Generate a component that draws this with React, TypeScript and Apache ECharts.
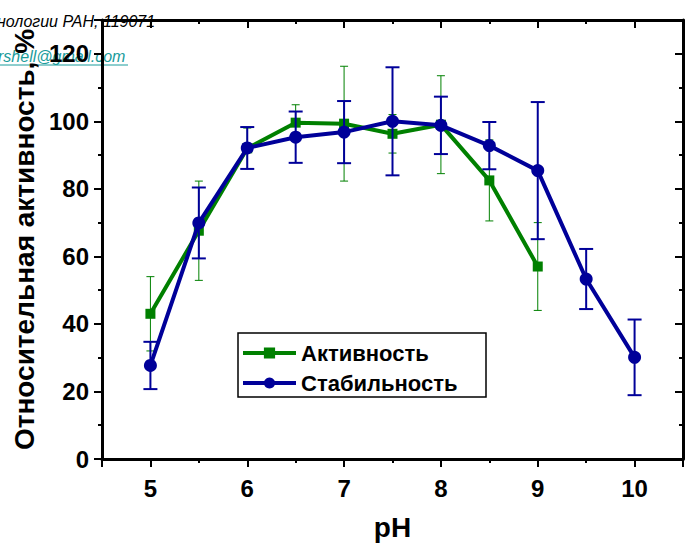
import React, { useEffect, useRef } from "react";
import * as echarts from "echarts";

const phActivity = [5, 5.5, 6, 6.5, 7, 7.5, 8, 8.5, 9];
const activity = [43, 67.6, 92, 99.6, 99.3, 96.3, 99, 82.5, 57];
const activityErr = [11, 14.7, 6, 5.3, 17, 5.7, 14.5, 12, 13];

const phStability = [5, 5.5, 6, 6.5, 7, 7.5, 8, 8.5, 9, 9.5, 10];
const stability = [27.7, 69.9, 92.1, 95.3, 96.8, 100, 98.8, 92.8, 85.4, 53.3, 30.1];
const stabilityErr = [7, 10.5, 6.2, 7.6, 9.2, 16, 8.5, 7, 20.3, 8.9, 11.2];

const seriesNames = ["Активность", "Стабильность"];
const xTitle = "pH";
const yTitle = "Относительная активность, %";
const bgLine1 = "нологии РАН, 119071";
const bgLine2 = "rshell@gmail.com";

const FONT = "'Liberation Sans', Arial, sans-serif";
const GREEN = "#008000";
const BLUE = "#000099";

function errorBars(name: string, xs: number[], ys: number[], errs: number[], color: string, lw: number, capW: number, z: number) {
  return {
    type: "custom",
    name,
    xAxisIndex: 0,
    yAxisIndex: 0,
    z,
    silent: true,
    data: xs.map((x, i) => [x, ys[i] - errs[i], ys[i] + errs[i]]),
    encode: { x: 0, y: [1, 2] },
    renderItem: (params: any, api: any) => {
      const x = api.value(0);
      const lo = api.coord([x, api.value(1)]);
      const hi = api.coord([x, api.value(2)]);
      const style = { stroke: color, lineWidth: lw };
      return {
        type: "group",
        children: [
          { type: "line", shape: { x1: lo[0], y1: lo[1], x2: hi[0], y2: hi[1] }, style },
          { type: "line", shape: { x1: lo[0] - capW / 2, y1: lo[1], x2: lo[0] + capW / 2, y2: lo[1] }, style },
          { type: "line", shape: { x1: hi[0] - capW / 2, y1: hi[1], x2: hi[0] + capW / 2, y2: hi[1] }, style },
        ],
      };
    },
  };
}

export default function App() {
  const ref = useRef<HTMLDivElement>(null);
  useEffect(() => {
    if (!ref.current) return;
    const chart = echarts.init(ref.current, null, { renderer: "svg" });
    const axisLineStyle = { color: "#000", width: 3 };
    const tickStyle = { color: "#000", width: 2 };
    const labelStyle = { fontFamily: FONT, fontWeight: "bold", fontSize: 24, color: "#000" };
    const xBase = { type: "value", min: 4.5, max: 10.5, gridIndex: 0, splitLine: { show: false } };
    const yBase = { type: "value", min: 0, max: 130, gridIndex: 0, splitLine: { show: false } };
    chart.setOption({
      animation: false,
      grid: { left: 102, right: 10, top: 20, bottom: 86, outerBoundsMode: "none" },
      xAxis: [
        { ...xBase, position: "bottom", interval: 0.5,
          axisLine: { show: true, onZero: false, lineStyle: axisLineStyle },
          axisTick: { show: true, inside: false, length: 4, lineStyle: tickStyle },
          axisLabel: { show: false } },
        { ...xBase, position: "bottom", minInterval: 1, maxInterval: 1,
          axisLine: { show: false, onZero: false },
          axisTick: { show: true, inside: false, length: 8, lineStyle: tickStyle },
          axisLabel: { ...labelStyle, margin: 17, formatter: (v: number) => (Number.isInteger(v) ? String(v) : "") },
          name: xTitle, nameLocation: "middle", nameGap: 54,
          nameTextStyle: { fontFamily: FONT, fontWeight: "bold", fontSize: 28, color: "#000" } },
        { ...xBase, position: "top", interval: 0.5,
          axisLine: { show: true, onZero: false, lineStyle: axisLineStyle },
          axisTick: { show: true, inside: true, length: 4, lineStyle: tickStyle },
          axisLabel: { show: false } },
        { ...xBase, position: "top", minInterval: 1, maxInterval: 1,
          axisLine: { show: false, onZero: false },
          axisTick: { show: true, inside: true, length: 8, lineStyle: tickStyle },
          axisLabel: { show: false } },
      ],
      yAxis: [
        { ...yBase, position: "left", interval: 10,
          axisLine: { show: true, onZero: false, lineStyle: axisLineStyle },
          axisTick: { show: true, inside: false, length: 4, lineStyle: tickStyle },
          axisLabel: { show: false } },
        { ...yBase, position: "left", minInterval: 20, maxInterval: 20,
          axisLine: { show: false, onZero: false },
          axisTick: { show: true, inside: false, length: 8, lineStyle: tickStyle },
          axisLabel: { ...labelStyle, margin: 13, formatter: (v: number) => (v % 20 === 0 ? String(v) : "") },
          name: yTitle, nameLocation: "middle", nameGap: 63,
          nameTextStyle: { fontFamily: FONT, fontWeight: "bold", fontSize: 28, color: "#000" } },
        { ...yBase, position: "right", interval: 10,
          axisLine: { show: true, onZero: false, lineStyle: axisLineStyle },
          axisTick: { show: true, inside: true, length: 4, lineStyle: tickStyle },
          axisLabel: { show: false } },
        { ...yBase, position: "right", minInterval: 20, maxInterval: 20,
          axisLine: { show: false, onZero: false },
          axisTick: { show: true, inside: true, length: 8, lineStyle: tickStyle },
          axisLabel: { show: false } },
      ],
      legend: {
        data: seriesNames,
        orient: "vertical",
        left: 241,
        top: 342,
        padding: 0,
        itemWidth: 53,
        itemHeight: 14,
        itemGap: 8,
        lineStyle: { width: 4 },
        textStyle: { fontFamily: FONT, fontWeight: "bold", fontSize: 22, color: "#000" },
      },
      graphic: [
        { type: "text", z: -10, left: -3, top: 13, style: { text: bgLine1, font: `italic 16px ${FONT}`, fill: "#000" } },
        { type: "text", z: -10, left: -2, top: 48, style: { text: bgLine2, font: `italic 16px ${FONT}`, fill: "#1a9c9c" } },
        { type: "line", z: -10, shape: { x1: 0, y1: 65, x2: 128, y2: 65 }, style: { stroke: "#1a9c9c", lineWidth: 1 } },
        { type: "rect", z: 10, shape: { x: 238, y: 333, width: 248, height: 64 }, style: { fill: "none", stroke: "#000", lineWidth: 1.5 } },
      ],
      series: [
        errorBars("errA", phActivity, activity, activityErr, GREEN, 1, 8, 2),
        {
          type: "line", name: seriesNames[0], xAxisIndex: 0, yAxisIndex: 0, z: 3,
          data: phActivity.map((x, i) => [x, activity[i]]),
          symbol: "rect", symbolSize: 10,
          lineStyle: { color: GREEN, width: 4 },
          itemStyle: { color: GREEN },
        },
        errorBars("errS", phStability, stability, stabilityErr, BLUE, 2, 14, 4),
        {
          type: "line", name: seriesNames[1], xAxisIndex: 0, yAxisIndex: 0, z: 5,
          data: phStability.map((x, i) => [x, stability[i]]),
          symbol: "circle", symbolSize: 13,
          lineStyle: { color: BLUE, width: 4 },
          itemStyle: { color: BLUE },
        },
      ],
    });
    return () => chart.dispose();
  }, []);
  return <div ref={ref} style={{ position: "absolute", left: 0, top: 0, width: 693, height: 545 }} />;
}
